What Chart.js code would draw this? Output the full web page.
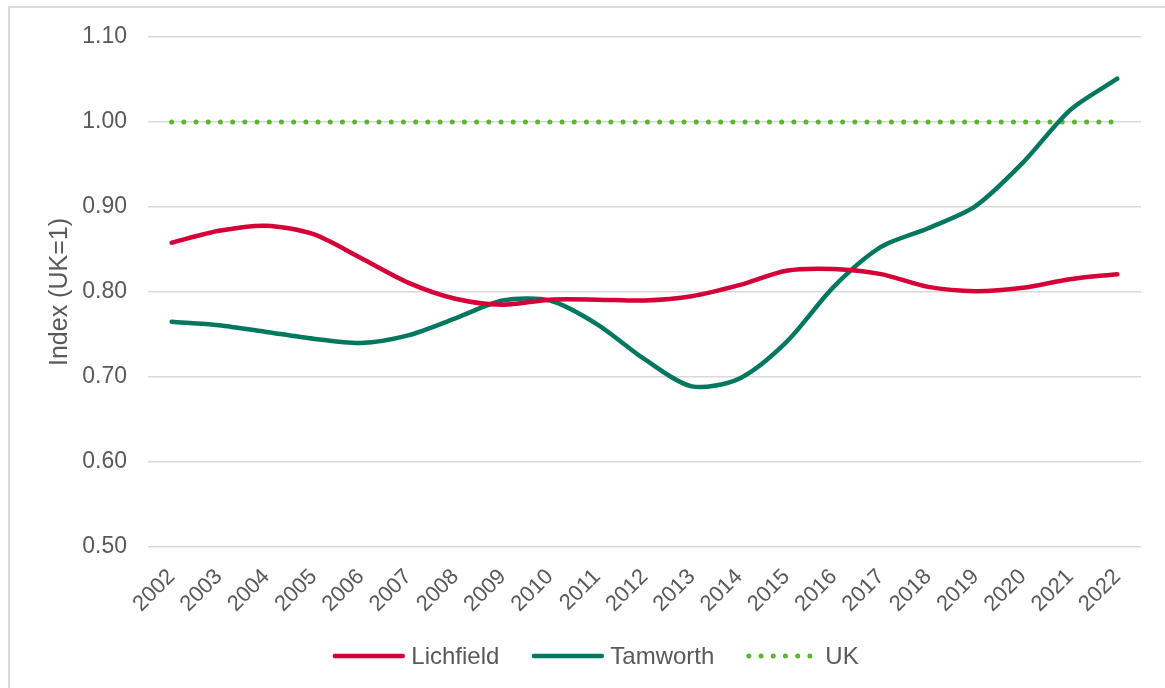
<!DOCTYPE html>
<html>
<head>
<meta charset="utf-8">
<script src="https://cdn.jsdelivr.net/npm/chart.js@4"></script>
<style>
    html, body { margin: 0; padding: 0; background: #fff; }
    #wrap { width: 1165px; height: 688px; position: relative; }
</style>
</head>
<body>
<div id="wrap"><canvas id="indexChart"></canvas></div>
<script>
// Productivity index relative to the UK (UK = 1)
const years = ["2002", "2003", "2004", "2005", "2006", "2007", "2008", "2009", "2010", "2011", "2012",
    "2013", "2014", "2015", "2016", "2017", "2018", "2019", "2020", "2021", "2022"];
const lichfield = [0.858, 0.872, 0.878, 0.868, 0.840, 0.811, 0.792, 0.785, 0.791, 0.791, 0.790,
    0.795, 0.808, 0.825, 0.827, 0.821, 0.806, 0.801, 0.805, 0.815, 0.821];
const tamworth = [0.765, 0.761, 0.753, 0.745, 0.740, 0.749, 0.769, 0.790, 0.790, 0.762, 0.721,
    0.689, 0.698, 0.741, 0.806, 0.853, 0.875, 0.901, 0.952, 1.014, 1.051];
const uk = years.map(() => 1.00);
const yTicks = [0.50, 0.60, 0.70, 0.80, 0.90, 1.00, 1.10];

const textColor = "#595959";
const fontFamily = "'Liberation Sans', Arial, sans-serif";

// light frame around the whole chart
const framePlugin = {
    id: "frame",
    beforeDraw(chart) {
        const ctx = chart.ctx;
        ctx.save();
        ctx.strokeStyle = "#d9d9d9";
        ctx.lineWidth = 2;
        ctx.strokeRect(9, 7, chart.width + 20, chart.height + 20);
        ctx.restore();
    }
};

// legend drawn by hand so the line samples keep their dash pattern and caps
const lineLegend = {
    id: "lineLegend",
    afterDraw(chart) {
        const ctx = chart.ctx;
        const sampleLen = 73;
        const gapText = 6;
        const gapItem = 32;
        const y = 656;
        ctx.save();
        ctx.font = "24px " + fontFamily;
        ctx.textBaseline = "middle";
        const items = chart.data.datasets.map(ds => ({ ds, w: ctx.measureText(ds.label).width }));
        const total = items.reduce((s, it) => s + sampleLen + gapText + it.w, 0) + gapItem * (items.length - 1);
        let x = (chart.width + 26) / 2 - total / 2;
        items.forEach(({ ds, w }) => {
            ctx.strokeStyle = ds.borderColor;
            ctx.lineWidth = ds.borderWidth;
            ctx.lineCap = "round";
            ctx.beginPath();
            if (ds.borderDash) {
                // six dots
                ctx.setLineDash(ds.borderDash);
                ctx.moveTo(x + 2.5, y);
                ctx.lineTo(x + 2.5 + ds.borderDash[1] * 5 + 0.5, y);
            } else {
                ctx.setLineDash([]);
                ctx.moveTo(x + 2.5, y);
                ctx.lineTo(x + sampleLen - 2.5, y);
            }
            ctx.stroke();
            ctx.setLineDash([]);
            ctx.fillStyle = textColor;
            ctx.fillText(ds.label, x + sampleLen + gapText, y + 1);
            x += sampleLen + gapText + w + gapItem;
        });
        ctx.restore();
    }
};

const ctx = document.getElementById("indexChart").getContext("2d");
new Chart(ctx, {
    type: "line",
    data: {
        labels: years,
        datasets: [
            {
                label: "Lichfield",
                data: lichfield,
                borderColor: "#d50037",
                borderWidth: 4.5,
                borderCapStyle: "round",
                pointRadius: 0,
                tension: 0.28
            },
            {
                label: "Tamworth",
                data: tamworth,
                borderColor: "#00785f",
                borderWidth: 4.5,
                borderCapStyle: "round",
                pointRadius: 0,
                tension: 0.28
            },
            {
                label: "UK",
                data: uk,
                borderColor: "#5ab52f",
                borderWidth: 5,
                borderDash: [0, 12.2],
                borderCapStyle: "round",
                pointRadius: 0,
                tension: 0
            }
        ]
    },
    options: {
        responsive: true,
        maintainAspectRatio: false,
        animation: false,
        layout: { padding: { left: 41, right: 24, top: 37, bottom: 53 } },
        plugins: {
            tooltip: { enabled: false },
            legend: { display: false }
        },
        scales: {
            x: {
                offset: true,
                grid: { display: false },
                border: { display: false },
                ticks: {
                    color: textColor,
                    font: { family: fontFamily, size: 22 },
                    maxRotation: 45,
                    minRotation: 45,
                    padding: 9,
                    autoSkip: false
                },
                afterFit(scale) { scale.height = 88; }
            },
            y: {
                min: 0.5,
                max: 1.1,
                afterBuildTicks(scale) { scale.ticks = yTicks.map(v => ({ value: v })); },
                grid: { color: "#d9d9d9", lineWidth: 1.5, drawTicks: false },
                border: { display: false },
                ticks: {
                    color: textColor,
                    font: { family: fontFamily, size: 23 },
                    padding: 21,
                    callback: v => v.toFixed(2)
                },
                title: {
                    display: true,
                    text: "Index (UK=1)",
                    color: textColor,
                    font: { family: fontFamily, size: 25 },
                    padding: 4
                },
                afterFit(scale) { scale.width = 148 - 41; }
            }
        }
    },
    plugins: [framePlugin, lineLegend]
});
</script>
</body>
</html>
